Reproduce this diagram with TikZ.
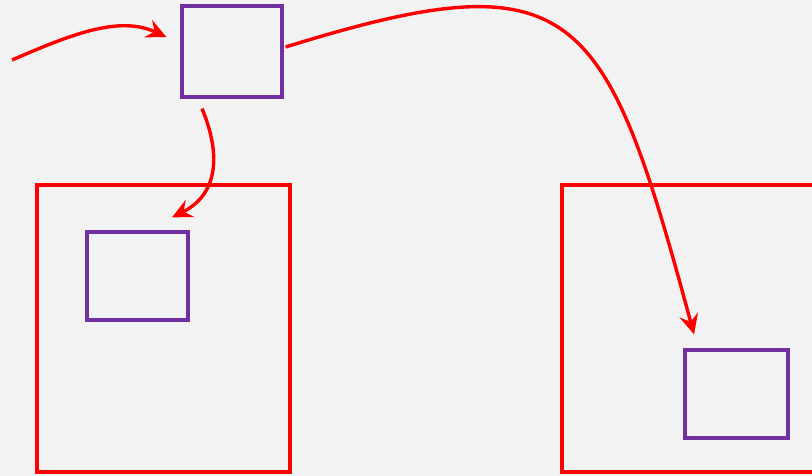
\documentclass[tikz,border=0pt]{standalone}
\usetikzlibrary{arrows.meta}
\definecolor{boxred}{RGB}{255,0,0}
\definecolor{boxpurple}{RGB}{112,48,160}
\definecolor{paper}{RGB}{242,242,242}
\begin{document}
\begin{tikzpicture}[
    x=1pt, y=-1pt,
    >={Stealth[length=20pt,width=19pt,inset=7pt]},
    outer/.style={draw=boxred, line width=3.6pt, rectangle, inner sep=0pt, minimum width=253pt, minimum height=287pt},
    inner/.style={draw=boxpurple, line width=3.2pt, rectangle, inner sep=0pt},
    flow/.style={draw=boxred, line width=3.4pt, ->}
]
  % background
  \fill[paper] (0,0) rectangle (812,476);
  \useasboundingbox (0,0) rectangle (812,476);
  \clip (0,0) rectangle (812,476);

  % nodes
  \node[outer] (L) at (163.5,328.5) {};
  \node[outer, minimum width=278pt] (R) at (701,328.5) {};
  \node[inner, minimum width=100pt, minimum height=91pt] (top) at (232,51.5) {};
  \node[inner, minimum width=101pt, minimum height=88pt] (linner) at (137.5,276) {};
  \node[inner, minimum width=103pt, minimum height=88pt] (rinner) at (736.5,394) {};
  \coordinate (in) at (12,60);

  % edges
  \draw[flow] (in) .. controls +(58,-25) and +(-48,-22) .. ([xshift=-14pt,yshift=14.5pt]top.west);
  \draw[flow] ([xshift=2pt,yshift=4.5pt]top.east) .. controls +(290,-90) and +(-89,-330) .. ([xshift=-42.5pt,yshift=14pt]rinner.north);
  \draw[flow] ([xshift=-30pt,yshift=-10pt]top.south) .. controls +(18,43) and +(48,-24) .. ([xshift=34.5pt,yshift=13pt]linner.north);
\end{tikzpicture}
\end{document}
